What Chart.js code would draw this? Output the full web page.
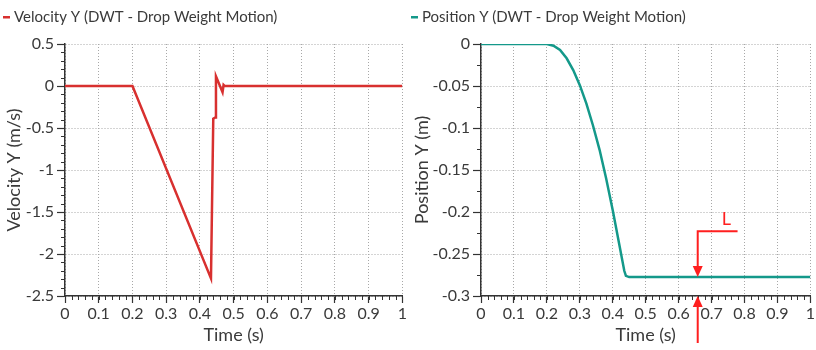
<!DOCTYPE html>
<html>
<head>
<meta charset="utf-8">
<script src="https://cdn.jsdelivr.net/npm/chart.js@4"></script>
<style>
  html, body { margin: 0; padding: 0; background: #fff; }
  .wrap { position: absolute; top: 0; width: 408px; height: 350px; }
  #leftWrap { left: 0; }
  #rightWrap { left: 408px; }
</style>
</head>
<body>
<div class="wrap" id="leftWrap"><canvas id="velocityChart"></canvas></div>
<div class="wrap" id="rightWrap"><canvas id="positionChart"></canvas></div>
<script>
// Velocity Y series (m/s)
const velocityTime = [0, 0.2, 0.4327, 0.4395, 0.4454, 0.4475, 0.467, 0.470, 0.473, 1];
const velocityValues = [0, 0, -2.29, -0.39, -0.375, 0.115, -0.075, 0.012, 0, 0];

// Position Y series (m)
const positionTime = [0, 0.2, 0.22, 0.24, 0.26, 0.28, 0.30, 0.32, 0.34, 0.36, 0.38, 0.40, 0.42, 0.435, 0.44, 0.45, 1];
const positionValues = [0, 0, -0.002, -0.007, -0.017, -0.031, -0.049, -0.071, -0.097, -0.126, -0.160, -0.198, -0.239, -0.270, -0.276, -0.2775, -0.2775];

// Axis ticks
const timeTicks = [0, 0.1, 0.2, 0.3, 0.4, 0.5, 0.6, 0.7, 0.8, 0.9, 1];
const velocityTicks = [0.5, 0, -0.5, -1, -1.5, -2, -2.5];
const positionTicks = [0, -0.05, -0.1, -0.15, -0.2, -0.25, -0.3];

// "L" marker (time, level) on the position chart
const markerTime = 0.658;
const markerTop = -0.223;
const markerEnd = 0.779;
const markerLabel = 'L';
const markerLabelAt = [0.745, -0.209];
const markerBottom = -0.356;

const FONT = 'Lato, "Open Sans", sans-serif';
const TEXT = '#3a3a3a';
const AXIS = '#333333';
const GRID = '#a8a8a8';
const ARROW = '#ff1f1f';

const toPoints = (xs, ys) => xs.map((x, i) => ({ x, y: ys[i] }));
const fmt = v => String(+v.toFixed(3));

// legend drawn as a short dash + text at the top left
const legendLine = {
  id: 'legendLine',
  afterDraw(chart) {
    const ds = chart.data.datasets[0];
    const ctx = chart.ctx;
    ctx.save();
    ctx.fillStyle = ds.borderColor;
    ctx.fillRect(3, 16, 7, 2.5);
    ctx.fillStyle = TEXT;
    ctx.font = '15px ' + FONT;
    ctx.textBaseline = 'middle';
    ctx.fillText(ds.label, 14, 17.5);
    ctx.restore();
  }
};

// minor tick marks between the labelled ticks
const minorTicks = {
  id: 'minorTicks',
  afterDraw(chart, args, opts) {
    const { x, y } = chart.scales;
    const ctx = chart.ctx;
    ctx.save();
    ctx.strokeStyle = AXIS;
    ctx.lineWidth = 1;
    ctx.beginPath();
    for (let v = x.min; v <= x.max + 1e-9; v += opts.xStep) {
      const px = Math.round(x.getPixelForValue(v)) + 0.5;
      ctx.moveTo(px, x.top);
      ctx.lineTo(px, x.top + 4);
    }
    for (let v = y.min; v <= y.max + 1e-9; v += opts.yStep) {
      const py = Math.round(y.getPixelForValue(v)) + 0.5;
      ctx.moveTo(y.right - 4, py);
      ctx.lineTo(y.right, py);
    }
    ctx.stroke();
    ctx.restore();
  }
};

function arrowHead(ctx, x, y, dir) {
  ctx.beginPath();
  ctx.moveTo(x, y);
  ctx.lineTo(x - 5, y - dir * 11);
  ctx.lineTo(x + 5, y - dir * 11);
  ctx.closePath();
  ctx.fill();
}

// the red "L" dimension marker
const markerPlugin = {
  id: 'markerPlugin',
  afterDraw(chart) {
    const { x, y } = chart.scales;
    const ctx = chart.ctx;
    const mx = x.getPixelForValue(markerTime);
    const top = y.getPixelForValue(markerTop);
    const end = x.getPixelForValue(markerEnd);
    const level = y.getPixelForValue(positionValues[positionValues.length - 1]);
    const axisY = y.getPixelForValue(y.min);
    const below = y.getPixelForValue(markerBottom);
    ctx.save();
    ctx.strokeStyle = ARROW;
    ctx.fillStyle = ARROW;
    ctx.lineWidth = 2;
    ctx.beginPath();
    ctx.moveTo(end, top);
    ctx.lineTo(mx, top);
    ctx.lineTo(mx, level - 8);
    ctx.moveTo(mx, below);
    ctx.lineTo(mx, axisY + 8);
    ctx.stroke();
    arrowHead(ctx, mx, level, 1);
    arrowHead(ctx, mx, axisY, -1);
    ctx.font = '18px ' + FONT;
    ctx.textAlign = 'center';
    ctx.textBaseline = 'middle';
    ctx.fillText(markerLabel, x.getPixelForValue(markerLabelAt[0]), y.getPixelForValue(markerLabelAt[1]));
    ctx.restore();
  }
};

function buildOptions(cfg) {
  return {
    responsive: true,
    maintainAspectRatio: false,
    animation: false,
    layout: { padding: { top: 44, right: cfg.rightPad, left: 0, bottom: 0 } },
    plugins: {
      legend: { display: false },
      tooltip: { enabled: false },
      minorTicks: { xStep: 0.02, yStep: cfg.yMinor }
    },
    scales: {
      x: {
        type: 'linear',
        min: 0,
        max: 1,
        afterBuildTicks: s => { s.ticks = timeTicks.map(v => ({ value: v })); },
        afterFit: s => { s.height = 54; },
        ticks: { color: TEXT, font: { family: FONT, size: 16 }, padding: 1, maxRotation: 0, callback: fmt },
        grid: { color: GRID, lineWidth: 1, tickColor: AXIS, tickLength: 7, tickWidth: 1.2 },
        border: { color: AXIS, width: 1.5, dash: [1, 2] },
        title: { display: true, text: 'Time (s)', color: TEXT, font: { family: FONT, size: 18 } }
      },
      y: {
        type: 'linear',
        min: cfg.yMin,
        max: cfg.yMax,
        afterBuildTicks: s => { s.ticks = cfg.yTicks.map(v => ({ value: v })); },
        afterFit: s => { s.width = cfg.yWidth; },
        ticks: { color: TEXT, font: { family: FONT, size: 16 }, padding: 3, callback: fmt },
        grid: { color: GRID, lineWidth: 1, tickColor: AXIS, tickLength: 8, tickWidth: 1.2 },
        border: { color: AXIS, width: 1.5, dash: [1, 2] },
        title: { display: true, text: cfg.yTitle, color: TEXT, font: { family: FONT, size: 18 }, padding: { top: 3, bottom: 0 } }
      }
    }
  };
}

function createVelocityChart() {
  new Chart(document.getElementById('velocityChart'), {
    type: 'line',
    data: {
      datasets: [{
        label: 'Velocity Y (DWT - Drop Weight Motion)',
        data: toPoints(velocityTime, velocityValues),
        borderColor: '#d8302f',
        borderWidth: 2.5,
        pointRadius: 0,
        tension: 0
      }]
    },
    options: buildOptions({ yMin: -2.5, yMax: 0.5, yTicks: velocityTicks, yMinor: 0.1, yWidth: 65, rightPad: 4, yTitle: 'Velocity Y (m/s)' }),
    plugins: [legendLine, minorTicks]
  });
}

function createPositionChart() {
  new Chart(document.getElementById('positionChart'), {
    type: 'line',
    data: {
      datasets: [{
        label: 'Position Y (DWT - Drop Weight Motion)',
        data: toPoints(positionTime, positionValues),
        borderColor: '#14998a',
        borderWidth: 2.5,
        pointRadius: 0,
        tension: 0
      }]
    },
    options: buildOptions({ yMin: -0.3, yMax: 0, yTicks: positionTicks, yMinor: 0.025, yWidth: 73, rightPad: 5, yTitle: 'Position Y (m)' }),
    plugins: [legendLine, minorTicks, markerPlugin]
  });
}

createVelocityChart();
createPositionChart();
</script>
</body>
</html>
